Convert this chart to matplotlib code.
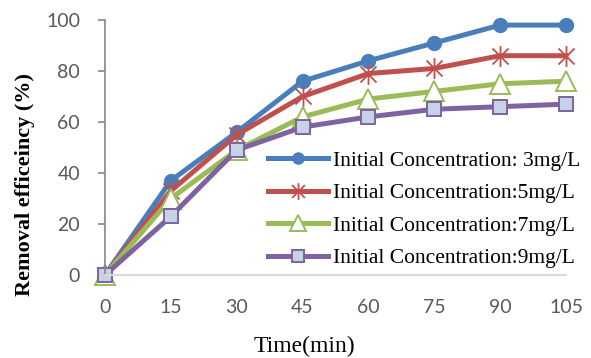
import numpy as np
import matplotlib
matplotlib.use('Agg')
import matplotlib.pyplot as plt
from matplotlib.path import Path

# dati
tempo = [0, 15, 30, 45, 60, 75, 90, 105]
conc_3 = [0, 37, 56, 76, 84, 91, 98, 98]
conc_5 = [0, 33, 55, 70, 79, 81, 86, 86]
conc_7 = [0, 30, 49, 62, 69, 72, 75, 76]
conc_9 = [0, 23, 49, 58, 62, 65, 66, 67]
etichette = ['Initial Concentration: 3mg/L', 'Initial Concentration:5mg/L',
             'Initial Concentration:7mg/L', 'Initial Concentration:9mg/L']

colori = ['#4a7ebb', '#c0504d', '#9bbb59', '#7f62a0']

# marker stella stile excel: X + linea verticale
stella = Path([(-1, -1), (1, 1), (-1, 1), (1, -1), (0, -1.3), (0, 1.3)],
              [Path.MOVETO, Path.LINETO, Path.MOVETO, Path.LINETO, Path.MOVETO, Path.LINETO])

fig = plt.figure(figsize=(5.91, 3.58), dpi=100)
ax = fig.add_axes([105/591, 83/358, (566-105)/591, (275-20)/358])

lw = 3.6
ax.plot(tempo, conc_3, color=colori[0], lw=lw, marker='o', ms=10,
        mfc=colori[0], mec=colori[0], clip_on=False, label=etichette[0])
ax.plot(tempo, conc_5, color=colori[1], lw=lw, marker=stella, ms=15,
        mec=colori[1], mew=1.3, clip_on=False, label=etichette[1])
ax.plot(tempo, conc_7, color=colori[2], lw=lw, marker='^', ms=15,
        mfc='white', mec=colori[2], mew=1.4, clip_on=False, label=etichette[2])
ax.plot(tempo, conc_9, color=colori[3], lw=lw, marker='s', ms=10,
        mfc='#c6d2e8', mec=colori[3], mew=1.4, clip_on=False, label=etichette[3])

ax.set_xlim(0, 105)
ax.set_ylim(0, 100)
ax.set_xticks(tempo)
ax.set_yticks(np.arange(0, 101, 20))

for s in ['top', 'right']:
    ax.spines[s].set_visible(False)
ax.spines['left'].set_color('#868686')
ax.spines['left'].set_linewidth(1.2)
ax.spines['bottom'].set_color('#d9d9d9')
ax.spines['bottom'].set_linewidth(1.5)

ax.tick_params(axis='y', direction='out', length=5, width=1.2, color='#868686',
               pad=13, labelsize=14, labelcolor='#595959')
ax.tick_params(axis='x', length=0, pad=17, labelsize=14, labelcolor='#595959')
for t in ax.get_xticklabels() + ax.get_yticklabels():
    t.set_fontfamily('Lato')

ax.set_xlabel('Time(min)', fontfamily='Liberation Serif', fontsize=17)
ax.set_ylabel('Removal efficeincy (%)', fontfamily='Liberation Serif',
              fontsize=16, fontweight='bold')
# etichette spostate come nell'originale
ax.xaxis.set_label_coords((304-105)/461, (275-346)/255)
ax.xaxis.label.set_va('center')
ax.yaxis.set_label_coords((25-105)/461, (275-185)/255)
ax.yaxis.label.set_va('center')

leg = ax.legend(loc='upper left', bbox_to_anchor=(257/591, 1 - 140/358),
                bbox_transform=fig.transFigure, frameon=False,
                prop={'family': 'Liberation Serif', 'size': 15.5},
                handlelength=2.8, handletextpad=0.22, labelspacing=0.58,
                borderpad=0, markerscale=0.8)

fig.savefig('out.png', dpi=100)
